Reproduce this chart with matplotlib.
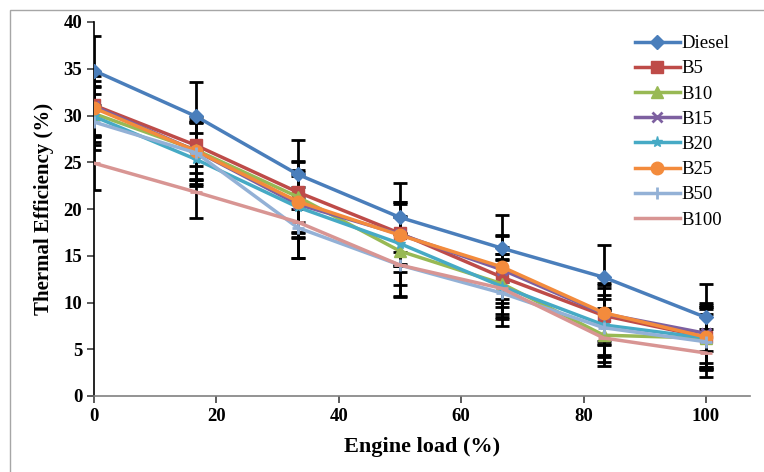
import matplotlib
matplotlib.use("Agg")
import matplotlib.pyplot as plt
from matplotlib.patches import Rectangle

load = [0, 16.7, 33.3, 50, 66.7, 83.3, 100]
diesel = [34.8, 29.9, 23.7, 19.1, 15.8, 12.7, 8.4]
b5 = [31.1, 26.8, 21.8, 17.4, 12.7, 8.6, 6.3]
b10 = [30.2, 26.3, 21.3, 15.5, 12.0, 6.5, 6.2]
b15 = [31.0, 26.2, 20.5, 17.3, 13.5, 8.8, 6.7]
b20 = [29.9, 25.3, 20.2, 16.3, 11.7, 7.6, 6.2]
b25 = [30.8, 26.2, 20.8, 17.2, 13.8, 8.9, 6.3]
b50 = [29.3, 26.0, 18.0, 14.0, 11.0, 7.3, 5.8]
b100 = [24.9, 21.8, 18.6, 14.0, 11.5, 6.2, 4.6]

err_diesel = [3.7, 3.7, 3.7, 3.7, 3.6, 3.5, 3.6]
err_b5 = [3.4, 3.0, 3.2, 3.3, 3.2, 3.0, 3.4]
err_b10 = [3.0, 3.2, 3.8, 3.6, 3.2, 2.9, 3.1]
err_b15 = [3.2, 3.0, 3.5, 3.4, 3.6, 3.3, 3.2]
err_b20 = [3.1, 2.8, 3.3, 3.0, 3.5, 3.2, 3.3]
err_b25 = [2.9, 3.1, 3.4, 3.3, 3.4, 3.0, 3.2]
err_b50 = [3.0, 3.3, 3.2, 3.4, 3.5, 3.1, 3.0]
err_b100 = [2.9, 2.8, 3.8, 3.3, 3.1, 3.0, 2.6]

names = ["Diesel", "B5", "B10", "B15", "B20", "B25", "B50", "B100"]
series = [diesel, b5, b10, b15, b20, b25, b50, b100]
errors = [err_diesel, err_b5, err_b10, err_b15, err_b20, err_b25, err_b50, err_b100]
colors = ["#4A7EBB", "#BE4B48", "#98B954", "#7D60A0", "#46AAC5", "#F38B3C", "#93B1D6", "#D89593"]
markers = ["D", "s", "^", "x", "*", "o", "+", "_"]
msizes = [7, 8, 8, 7, 8, 9, 9, 8]

yticks = [0, 5, 10, 15, 20, 25, 30, 35, 40]
xticks = [0, 20, 40, 60, 80, 100]

plt.rcParams["font.family"] = ["Liberation Serif", "DejaVu Serif"]

fig = plt.figure(figsize=(7.64, 4.72), dpi=100)
fig.patches.append(Rectangle((10 / 764, -0.1), 1.2, 1.1 - 10 / 472,
                             transform=fig.transFigure, fill=False,
                             edgecolor="#A6A6A6", linewidth=1.0))
ax = fig.add_axes([94 / 764, 76 / 472, (750 - 94) / 764, (396 - 22) / 472])

for ys, es in zip(series, errors):
    ax.errorbar(load, ys, yerr=es, fmt="none", ecolor="black", elinewidth=2.0,
                capsize=5, capthick=2.0, zorder=2)

for nm, ys, c, m, ms in zip(names, series, colors, markers, msizes):
    ax.plot(load, ys, color=c, marker=m, markersize=ms, linewidth=2.5,
            markeredgecolor=c, markeredgewidth=2 if m in "x+_" else 1,
            label=nm, zorder=3)

ax.set_xlim(0, 107.2)
ax.set_ylim(0, 40)
ax.set_xticks(xticks)
ax.set_yticks(yticks)
ax.tick_params(axis="both", direction="out", length=5, width=1.2, labelsize=13.5,
               color="#404040")
for lbl in ax.get_xticklabels() + ax.get_yticklabels():
    lbl.set_fontweight("bold")
ax.spines["top"].set_visible(False)
ax.spines["right"].set_visible(False)
ax.spines["left"].set_color("black")
ax.spines["bottom"].set_color("#808080")
ax.spines["left"].set_linewidth(1.2)
ax.spines["bottom"].set_linewidth(1.2)

ax.set_xlabel("Engine load (%)", fontsize=16, fontweight="bold", labelpad=9)
ax.set_ylabel("Thermal Efficiency (%)", fontsize=15, fontweight="bold", labelpad=7)

leg = ax.legend(loc="upper left", bbox_to_anchor=(0.804, 1.0), frameon=False,
                fontsize=13.5, handlelength=2.4, handletextpad=0.1,
                labelspacing=0.43, borderaxespad=0.3)

fig.savefig("out.png", dpi=100)
